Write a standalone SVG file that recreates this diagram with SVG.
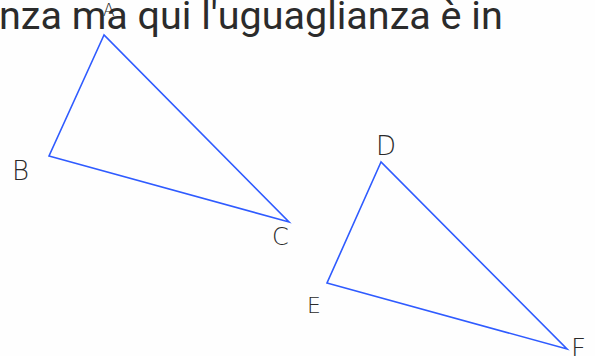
<svg xmlns="http://www.w3.org/2000/svg" width="595" height="356" viewBox="0 0 595 356">
<style>
.tri{fill:none;stroke:#2f5bff;stroke-width:1.6;stroke-linejoin:miter}
.lbl{font-family:"DejaVu Sans","Liberation Sans",sans-serif;font-weight:300;fill:#2a2a2a}
.title{font-family:Roboto,"Liberation Sans",sans-serif;font-size:39.5px;fill:#2b2b2b}
</style>
<rect width="595" height="356" fill="#fefefe"/>
<text class="title" x="-1" y="29">nza ma qui l'uguaglianza è in</text>
<g id="triangle-abc">
<polygon class="tri" points="104,35 49,156 289,222"/>
</g>
<g id="triangle-def">
<polygon class="tri" points="381,162 327,283 567,349"/>
</g>
<g id="label-A"><text class="lbl" x="103" y="16" font-size="17">A</text></g>
<g id="label-B"><text class="lbl" x="12" y="180" font-size="26">B</text></g>
<g id="label-C"><text class="lbl" x="272" y="245" font-size="24">C</text></g>
<g id="label-D"><text class="lbl" x="376" y="155" font-size="26">D</text></g>
<g id="label-E"><text class="lbl" x="307" y="313" font-size="22">E</text></g>
<g id="label-F"><text class="lbl" x="571" y="358" font-size="26">F</text></g>
</svg>
